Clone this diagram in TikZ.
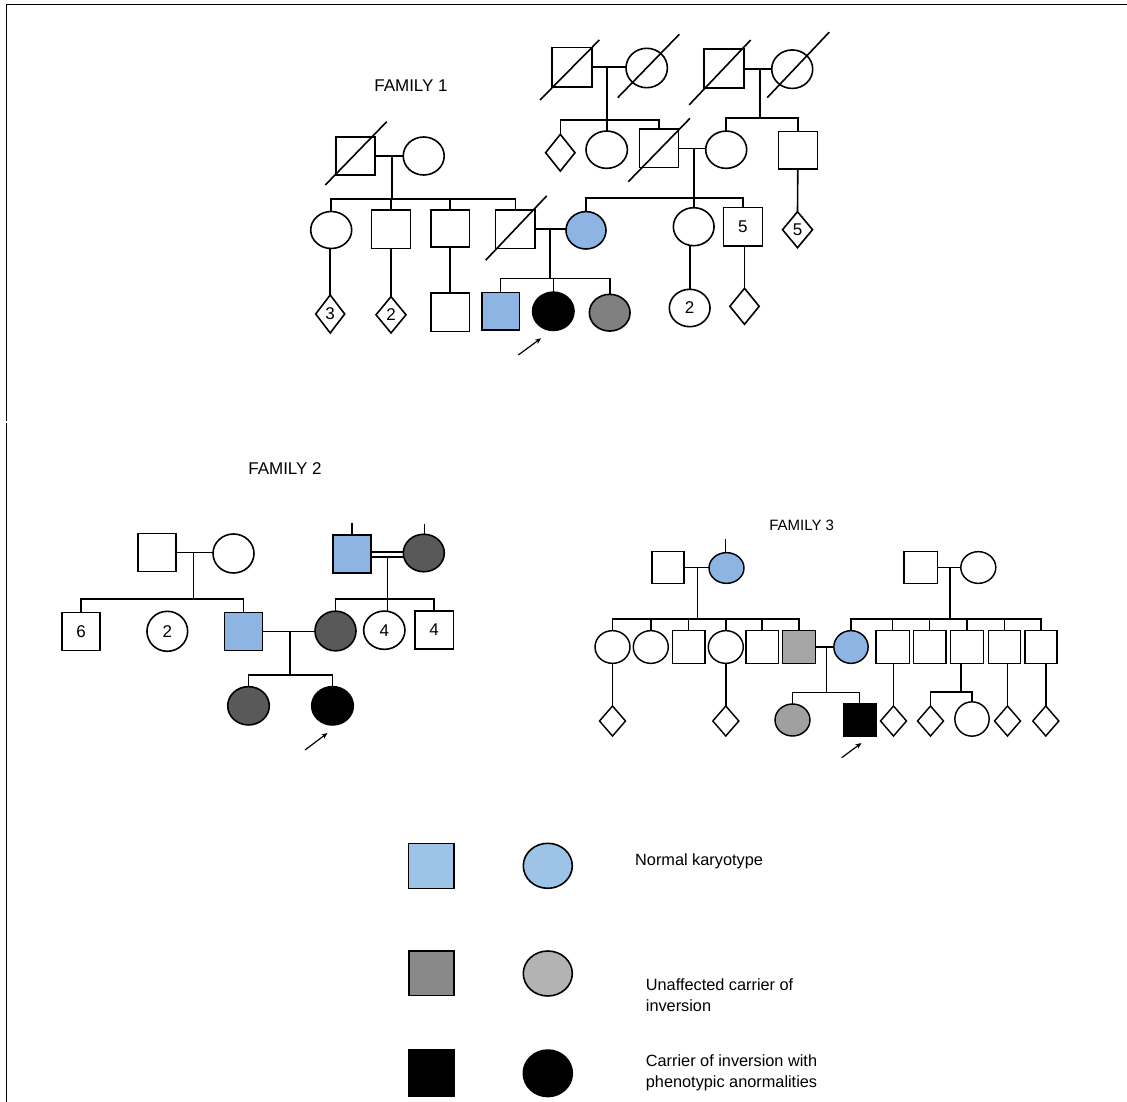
\documentclass[tikz,border=0pt]{standalone}
\usepackage{fontspec}
\setmainfont{Liberation Sans}
\usetikzlibrary{shapes.geometric,arrows.meta}
\definecolor{pblue}{RGB}{141,180,226}
\definecolor{lblue}{RGB}{157,195,230}
\definecolor{dkgray}{RGB}{89,89,89}
\definecolor{mgray}{RGB}{128,128,128}
\definecolor{fthreegray}{RGB}{166,166,166}
\definecolor{fthreeci}{RGB}{160,160,160}
\definecolor{lgsq}{RGB}{137,137,137}
\definecolor{lgci}{RGB}{179,179,179}
\newcommand\deadmark[3]{\draw[pline] ([shift={#2}]#1.center) -- ([shift={#3}]#1.center);}
\tikzset{
 pline/.style={line width=1.6pt},
 person/.style={draw=black, line width=1.6pt, inner sep=0pt, outer sep=0pt, font=\fontsize{17}{20}\selectfont},
 sq/.style={person, rectangle},
 ci/.style={person, ellipse},
 dm/.style={person, diamond},
 lab/.style={font=\fontsize{17}{20}\selectfont, inner sep=0pt, anchor=base},
 leg/.style={font=\fontsize{16.3}{20}\selectfont, inner sep=0pt, anchor=base west},
 arr/.style={line width=1.2pt, -{Stealth[length=6pt,width=5pt]}},
}
\begin{document}
\begin{tikzpicture}[x=1pt,y=-1pt]
\useasboundingbox (0,0) rectangle (1127,1102);
% frame
\coordinate (fra) at (6.3,1102);
\coordinate (frb) at (6.3,423);
\coordinate (frc) at (6.3,421);
\coordinate (frd) at (6.3,4.6);
\coordinate (fre) at (1127,4.6);
\draw[line width=1.6pt] (fra) -- (frb);
\draw[line width=1.6pt] (frc) -- (frd) -- (fre);

% ================= FAMILY 1 =================
\node[lab] (f1lab) at (411,91.7) {FAMILY 1};
\node[sq,minimum width=40,minimum height=39.5] (f1pa) at (571.7,67.2) {};
\node[ci,minimum width=41.4,minimum height=39.4] (f1pb) at (646.7,68) {};
\node[sq,minimum width=40,minimum height=39] (f1pc) at (724.2,68.8) {};
\node[ci,minimum width=41,minimum height=38.5] (f1pd) at (792.2,69.2) {};
\node[sq,minimum width=39,minimum height=38.5] (f1pe) at (355.3,156) {};
\node[ci,minimum width=41,minimum height=38] (f1pf) at (423.7,156) {};
% generation II
\node[dm,minimum width=29.4,minimum height=36.7] (f1ga) at (560.3,152.7) {};
\node[ci,minimum width=41.4,minimum height=37.3] (f1gb) at (606.7,149.7) {};
\node[sq,minimum width=39,minimum height=38.4] (f1gc) at (658.8,148.5) {};
\node[ci,minimum width=41,minimum height=37.3] (f1gd) at (726.2,149.7) {};
\node[sq,minimum width=39,minimum height=37.5] (f1ge) at (797.8,150.3) {};
\node[ci,minimum width=41,minimum height=37] (f1gf) at (331.2,230) {};
\node[sq,minimum width=39,minimum height=38.3] (f1gg) at (391,229.2) {};
\node[sq,minimum width=38.6,minimum height=37] (f1gh) at (450,228.5) {};
\node[sq,minimum width=39.3,minimum height=38.3] (f1gi) at (515.3,229.2) {};
% generation III (middle)
\node[ci,fill=pblue,minimum width=40,minimum height=37.4] (f1ha) at (586,230.3) {};
\node[ci,minimum width=40.7,minimum height=38] (f1hb) at (693.7,226.7) {};
\node[sq,minimum width=39,minimum height=38.3] (f1hc) at (742.8,226.8) {5};
\node[dm,minimum width=30,minimum height=36] (f1hd) at (797.5,229.7) {5};
% bottom row
\node[dm,minimum width=29,minimum height=38] (f1ia) at (330.2,314) {3};
\node[dm,minimum width=30,minimum height=36.3] (f1ib) at (391,314.8) {2};
\node[sq,minimum width=38.6,minimum height=38.7] (f1ic) at (450,312.3) {};
\node[sq,fill=pblue,minimum width=37.6,minimum height=37.7] (f1id) at (500.5,311.2) {};
\node[ci,fill=black,minimum width=41.4,minimum height=38.3] (f1ie) at (553.3,311.3) {};
\node[ci,fill=mgray,minimum width=40.7,minimum height=36.7] (f1if) at (609.7,312.7) {};
\node[ci,minimum width=40.7,minimum height=37.4] (f1ig) at (689.7,308) {2};
\node[dm,minimum width=29.3,minimum height=36] (f1ih) at (744.5,306.3) {};
% deceased marks
\deadmark{f1pa}{(-31.7,32.8)}{(27.6,-27.2)}
\deadmark{f1pb}{(-29,29.7)}{(32.6,-33.7)}
\deadmark{f1pc}{(-35,36)}{(26.5,-28.8)}
\deadmark{f1pd}{(-25,28.5)}{(37,-37)}
\deadmark{f1pe}{(-30,29)}{(31.4,-34.3)}
\deadmark{f1gc}{(-30.5,33.2)}{(31.2,-30.2)}
\deadmark{f1gi}{(-29.6,31)}{(31.4,-33.3)}
% connectors: top-left couple
\coordinate (f1ma) at (606.7,67.7);
\coordinate (f1sa) at (606.7,120);
\draw[pline] (f1pa.east) -- (f1pa.east -| f1pb.west);
\draw[pline] (f1ma) -- (f1ma |- f1gb.north);
\draw[pline] (f1ga.north) -- (f1ga.north |- f1sa) -- (f1gc.north |- f1sa) -- (f1gc.north);
% top-right couple
\coordinate (f1mb) at (760,68.5);
\coordinate (f1sb) at (760,118.3);
\draw[pline] (f1pc.east) -- (f1pc.east -| f1pd.west);
\draw[pline] (f1mb) -- (f1sb);
\draw[pline] (f1gd.north) -- (f1gd.north |- f1sb) -- (f1ge.north |- f1sb) -- (f1ge.north);
% left couple
\coordinate (f1mc) at (391.7,156);
\coordinate (f1sc) at (391.7,199.3);
\draw[pline] (f1pe.east) -- (f1pe.east -| f1pf.west);
\draw[pline] (f1mc) -- (f1sc);
\draw[pline] (f1gf.north) -- (f1gf.north |- f1sc) -- (f1gi.north |- f1sc) -- (f1gi.north);
\draw[pline] (f1gg.north |- f1sc) -- (f1gg.north);
\draw[pline] (f1gh.north |- f1sc) -- (f1gh.north);
% middle couple
\coordinate (f1md) at (694,148.5);
\coordinate (f1sd) at (694,198.3);
\draw[pline] (f1gc.east) -- (f1gc.east -| f1gd.west);
\draw[pline] (f1md) -- (f1md |- f1hb.north);
\draw[pline] (f1ha.north) -- (f1ha.north |- f1sd) -- (f1hc.north |- f1sd) -- (f1hc.north);
\draw[pline] (f1ge.south) -- (f1hd.north);
% to bottom row
\draw[pline] (f1ia.north |- f1gf.south) -- (f1ia.north);
\draw[pline] (f1gg.south) -- (f1ib.north);
\draw[pline] (f1gh.south) -- (f1ic.north);
\draw[pline] (f1ig.north |- f1hb.south) -- (f1ig.north);
\draw[pline] (f1ih.north |- f1hc.south) -- (f1ih.north);
% proband's parents
\coordinate (f1me) at (550,229.3);
\coordinate (f1se) at (550,278.3);
\draw[pline] (f1gi.east) -- (f1gi.east -| f1ha.west);
\draw[pline] (f1me) -- (f1se);
\draw[pline] (f1id.north) -- (f1id.north |- f1se) -- (f1if.north |- f1se) -- (f1if.north);
\draw[pline] (f1ie.north |- f1se) -- (f1ie.north);
\coordinate (f1ara) at (518.3,355);
\coordinate (f1arb) at (541,338.3);
\draw[arr] (f1ara) -- (f1arb);

% ================= FAMILY 2 =================
\node[lab] (f2lab) at (285,474.5) {FAMILY 2};
\node[sq,minimum width=38.3,minimum height=38.3] (f2pa) at (157,552.5) {};
\node[ci,minimum width=41,minimum height=39] (f2pb) at (233.5,553.5) {};
\node[sq,fill=pblue,minimum width=38,minimum height=38] (f2pc) at (351.7,554) {};
\node[ci,fill=dkgray,minimum width=41,minimum height=37.5] (f2pd) at (423.8,553) {};
\node[sq,minimum width=38.3,minimum height=38.3] (f2ga) at (81,631.5) {6};
\node[ci,minimum width=40.7,minimum height=40] (f2gb) at (167.3,631.3) {2};
\node[sq,fill=pblue,minimum width=38.3,minimum height=38.3] (f2gc) at (243.5,631.5) {};
\node[ci,fill=dkgray,minimum width=41,minimum height=39.7] (f2gd) at (335.5,631) {};
\node[ci,minimum width=41.3,minimum height=38.3] (f2ge) at (384.3,630.2) {4};
\node[sq,minimum width=38.3,minimum height=38.3] (f2gf) at (434.2,630) {4};
\node[ci,fill=dkgray,minimum width=41.6,minimum height=38.3] (f2ha) at (248.5,705.8) {};
\node[ci,fill=black,minimum width=41.6,minimum height=38.3] (f2hb) at (332.5,705.8) {};
\coordinate (f2ma) at (193.3,552.5);
\coordinate (f2sa) at (193.3,599);
\draw[pline] (f2pa.east) -- (f2pa.east -| f2pb.west);
\draw[pline] (f2ma) -- (f2sa);
\draw[pline] (f2ga.north) -- (f2ga.north |- f2sa) -- (f2gc.north |- f2sa) -- (f2gc.north);
\coordinate (f2ta) at (352,523.3);
\coordinate (f2tb) at (424.3,524.3);
\draw[pline] (f2ta) -- (f2ta |- f2pc.north);
\draw[pline] (f2tb) -- (f2tb |- f2pd.north);
\draw[line width=1.3pt] ([yshift=2pt]f2pc.east) -- ([yshift=2pt]f2pc.east -| f2pd.west);
\draw[line width=1.3pt] ([yshift=-3pt]f2pc.east) -- ([yshift=-3pt]f2pc.east -| f2pd.west);
\coordinate (f2mb) at (387.3,557);
\coordinate (f2sb) at (387.3,599);
\draw[pline] (f2mb) -- (f2mb |- f2ge.north);
\draw[pline] (f2gd.north) -- (f2gd.north |- f2sb) -- (f2gf.north |- f2sb) -- (f2gf.north);
\coordinate (f2mc) at (290,631.5);
\coordinate (f2sc) at (290,675);
\draw[pline] (f2gc.east) -- (f2gc.east -| f2gd.west);
\draw[pline] (f2mc) -- (f2sc);
\draw[pline] (f2ha.north) -- (f2ha.north |- f2sc) -- (f2hb.north |- f2sc) -- (f2hb.north);
\coordinate (f2ara) at (305,750);
\coordinate (f2arb) at (327.5,733);
\draw[arr] (f2ara) -- (f2arb);

% ================= FAMILY 3 =================
\begin{scope}[person/.append style={line width=1.45pt}, pline/.style={line width=1.45pt}]
\node[lab,font=\fontsize{15}{18}\selectfont] (f3lab) at (801.7,530.7) {FAMILY 3};
\node[sq,minimum width=32.3,minimum height=31.7] (f3pa) at (668,567.5) {};
\node[ci,fill=pblue,minimum width=35,minimum height=30.7] (f3pb) at (726.5,568) {};
\node[sq,minimum width=33.3,minimum height=31.7] (f3pc) at (920.7,567.5) {};
\node[ci,minimum width=35,minimum height=31.7] (f3pd) at (978.3,567.5) {};
\node[ci,minimum width=35,minimum height=32.7] (f3ga) at (612.5,647) {};
\node[ci,minimum width=35,minimum height=32.7] (f3gb) at (650.8,647) {};
\node[sq,minimum width=32.7,minimum height=32.7] (f3gc) at (688.7,647) {};
\node[ci,minimum width=35,minimum height=32.7] (f3gd) at (725.8,647) {};
\node[sq,minimum width=32.3,minimum height=32.7] (f3ge) at (762.2,647) {};
\node[sq,fill=fthreegray,minimum width=33.3,minimum height=32.7] (f3gf) at (799,647) {};
\node[ci,fill=pblue,minimum width=34.3,minimum height=32.7] (f3gg) at (851,647) {};
\node[sq,minimum width=33.3,minimum height=32.7] (f3gh) at (892.7,647) {};
\node[sq,minimum width=32.7,minimum height=32.7] (f3gi) at (929.7,647) {};
\node[sq,minimum width=32.7,minimum height=32.7] (f3gj) at (967,647) {};
\node[sq,minimum width=32.3,minimum height=32.7] (f3gk) at (1004.5,647) {};
\node[sq,minimum width=32.3,minimum height=32.7] (f3gl) at (1041,647) {};
\node[ci,fill=fthreeci,minimum width=35,minimum height=32] (f3ha) at (792.5,720) {};
\node[sq,fill=black,minimum width=32.7,minimum height=32] (f3hb) at (859.7,720) {};
\node[dm,minimum width=26,minimum height=30] (f3ia) at (612.5,721) {};
\node[dm,minimum width=26,minimum height=30] (f3ib) at (725.8,721) {};
\node[dm,minimum width=26,minimum height=30] (f3ic) at (893.5,721) {};
\node[dm,minimum width=26,minimum height=30] (f3id) at (930.5,721) {};
\node[ci,minimum width=34.3,minimum height=34.3] (f3ig) at (972,719) {};
\node[dm,minimum width=26,minimum height=30] (f3ie) at (1007.5,721) {};
\node[dm,minimum width=26,minimum height=30] (f3if) at (1045.8,721) {};
\coordinate (f3ta) at (725.7,539.3);
\draw[pline] (f3ta) -- (f3ta |- f3pb.north);
\coordinate (f3ma) at (697.3,568);
\coordinate (f3sa) at (697.3,619);
\draw[pline] (f3pa.east) -- (f3pa.east -| f3pb.west);
\draw[pline] (f3ma) -- (f3sa);
\draw[pline] (f3ga.north) -- (f3ga.north |- f3sa) -- (f3gf.north |- f3sa) -- (f3gf.north);
\foreach \n in {f3gb,f3gc,f3gd,f3ge} \draw[pline] (\n.north |- f3sa) -- (\n.north);
\coordinate (f3mb) at (950,567.7);
\coordinate (f3sb) at (950,619);
\draw[pline] (f3pc.east) -- (f3pc.east -| f3pd.west);
\draw[pline] (f3mb) -- (f3sb);
\draw[pline] (f3gg.north) -- (f3gg.north |- f3sb) -- (f3gl.north |- f3sb) -- (f3gl.north);
\foreach \n in {f3gh,f3gi,f3gj,f3gk} \draw[pline] (\n.north |- f3sb) -- (\n.north);
\coordinate (f3mc) at (826.7,647);
\coordinate (f3sc) at (826.7,692.7);
\draw[pline] (f3gf.east) -- (f3gf.east -| f3gg.west);
\draw[pline] (f3mc) -- (f3sc);
\draw[pline] (f3ha.north) -- (f3ha.north |- f3sc) -- (f3hb.north |- f3sc) -- (f3hb.north);
\draw[pline] (f3ia.north |- f3ga.south) -- (f3ia.north);
\draw[pline] (f3ib.north |- f3gd.south) -- (f3ib.north);
\draw[pline] (f3ic.north |- f3gh.south) -- (f3ic.north);
\draw[pline] (f3ie.north |- f3gk.south) -- (f3ie.north);
\draw[pline] (f3if.north |- f3gl.south) -- (f3if.north);
\coordinate (f3sd) at (961,692);
\draw[pline] (f3sd |- f3gj.south) -- (f3sd);
\draw[pline] (f3id.north) -- (f3id.north |- f3sd) -- (f3ig.north |- f3sd) -- (f3ig.north);
\coordinate (f3ara) at (841.7,757.7);
\coordinate (f3arb) at (861.5,743);
\draw[arr] (f3ara) -- (f3arb);
\end{scope}

% ================= LEGEND =================
\node[sq,fill=lblue,minimum width=45.5,minimum height=45] (lga) at (431.2,865.8) {};
\node[ci,fill=lblue,minimum width=49,minimum height=45] (lgb) at (547.8,865.8) {};
\node[leg] (lgc) at (635,865) {Normal karyotype};
\node[sq,fill=lgsq,minimum width=45,minimum height=44.7] (lgd) at (431.5,973.3) {};
\node[ci,fill=lgci,minimum width=49,minimum height=45] (lge) at (547.8,973.5) {};
\node[leg] (lgf) at (645.7,990.5) {Unaffected carrier of};
\node[leg] (lgg) at (645.7,1011.5) {inversion};
\node[sq,fill=black,minimum width=45,minimum height=46] (lgh) at (431.5,1073) {};
\node[ci,fill=black,minimum width=49,minimum height=46.5] (lgi) at (547.8,1073.3) {};
\node[leg] (lgj) at (645.7,1066.5) {Carrier of inversion with};
\node[leg] (lgk) at (645.7,1087.2) {phenotypic anormalities};
\end{tikzpicture}
\end{document}
